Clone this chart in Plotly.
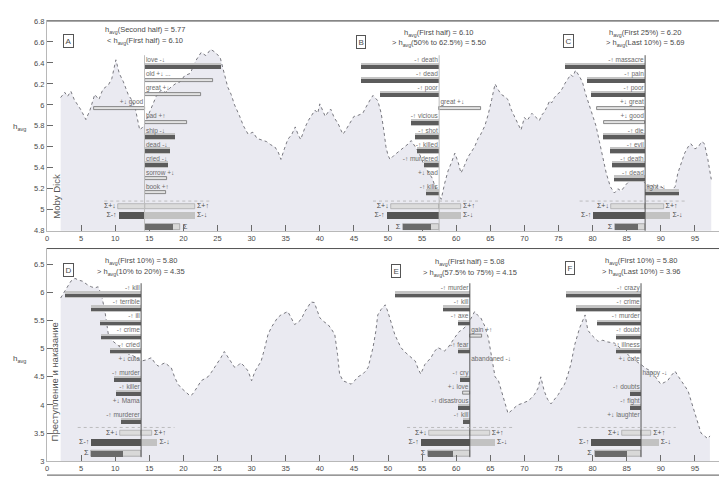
import plotly.graph_objects as go

# ---------------- data: happiness time series (percent of text, h_avg) ----------------
moby_x = [2.0, 2.6, 3.0, 3.5, 4.0, 4.5, 5.0, 5.7, 6.3, 7.0, 7.6, 8.2, 9.0, 9.5, 10.1, 10.6, 11.2, 11.9,
          12.4, 12.9, 13.3, 13.6, 14.2, 14.8, 15.5, 16.0, 16.7, 17.4, 18.0, 18.8, 19.5, 20.2, 21.0, 21.8,
          22.6, 23.3, 24.0, 24.7, 25.4, 26.0, 26.5, 27.0, 27.5, 28.2, 28.8, 29.5, 30.2, 30.8, 31.4, 32.2,
          32.8, 33.4, 33.9, 34.3, 34.8, 35.3, 35.9, 36.4, 36.8, 37.2, 37.8, 38.3, 38.8, 39.3, 39.7, 40.0,
          40.4, 40.8, 41.2, 41.6, 42.1, 42.7, 43.1, 43.4, 43.8, 44.2, 44.6, 45.0, 45.6, 46.3, 46.7, 47.0,
          47.4, 47.8, 48.2, 48.5, 48.8, 49.0, 49.4, 49.7, 50.0, 50.3, 50.9, 51.5, 52.0, 52.5, 53.0, 53.4,
          54.0, 54.5, 55.0, 55.5, 56.0, 56.5, 57.0, 57.3, 57.8, 58.3, 58.8, 59.3, 59.8, 60.3, 60.7, 61.2,
          61.7, 62.2, 62.7, 63.2, 63.6, 64.2, 64.7, 65.2, 65.7, 66.2, 66.6, 67.1, 67.6, 68.1, 68.6, 69.0,
          69.5, 70.0, 70.4, 70.7, 71.1, 71.4, 71.8, 72.2, 72.5, 72.9, 73.3, 73.7, 74.0, 74.4, 74.8, 75.2,
          75.6, 75.9, 76.4, 76.8, 77.1, 77.5, 78.0, 78.5, 79.0, 79.5, 80.0, 80.5, 81.0, 81.5, 82.0, 82.6,
          83.2, 83.7, 84.2, 84.9, 85.6, 86.3, 87.1, 87.6, 88.1, 88.6, 89.1, 89.6, 90.1, 90.8, 91.4, 91.8,
          92.1, 92.5, 93.0, 93.5, 94.0, 94.4, 95.0, 95.5, 96.0, 96.4, 96.9, 97.4]
moby_h = [6.07, 6.12, 6.08, 6.13, 6.05, 6.00, 5.95, 5.86, 5.95, 6.10, 6.05, 6.15, 6.19, 6.25, 6.43, 6.30,
          6.22, 6.10, 6.05, 5.98, 5.85, 5.76, 5.80, 5.90, 6.00, 6.08, 6.14, 6.12, 6.16, 6.20, 6.22, 6.28,
          6.30, 6.42, 6.50, 6.47, 6.53, 6.50, 6.45, 6.30, 6.17, 6.10, 6.00, 5.90, 5.80, 5.72, 5.74, 5.68,
          5.67, 5.65, 5.62, 5.60, 5.55, 5.48, 5.58, 5.67, 5.72, 5.79, 5.72, 5.67, 5.78, 5.85, 5.90, 5.95,
          5.92, 6.01, 5.95, 5.89, 5.93, 5.96, 5.88, 5.82, 5.76, 5.72, 5.76, 5.80, 5.84, 5.89, 5.90, 5.92,
          5.97, 6.01, 6.05, 6.09, 6.06, 6.04, 5.97, 5.92, 5.75, 5.60, 5.52, 5.48, 5.52, 5.55, 5.58, 5.60,
          5.63, 5.66, 5.60, 5.55, 5.47, 5.40, 5.35, 5.30, 5.20, 5.16, 5.10, 5.25, 5.37, 5.45, 5.54, 5.45,
          5.35, 5.42, 5.50, 5.55, 5.60, 5.68, 5.72, 5.80, 5.91, 6.05, 6.20, 6.14, 6.10, 6.08, 6.05, 5.95,
          5.88, 5.82, 5.76, 5.88, 5.85, 5.88, 5.92, 5.90, 5.87, 5.85, 5.90, 5.93, 5.98, 6.04, 6.02, 6.07,
          6.10, 6.12, 6.16, 6.20, 6.25, 6.29, 6.27, 6.33, 6.28, 6.22, 6.10, 6.00, 5.90, 5.80, 5.65, 5.50,
          5.35, 5.22, 5.16, 5.20, 5.18, 5.24, 5.29, 5.27, 5.31, 5.26, 5.22, 5.24, 5.20, 5.23, 5.22, 5.18,
          5.16, 5.20, 5.22, 5.35, 5.45, 5.54, 5.60, 5.63, 5.58, 5.60, 5.65, 5.63, 5.48, 5.29]

crime_x = [2.0, 2.5, 3.0, 3.5, 4.1, 4.6, 5.2, 5.7, 6.0, 6.5, 7.0, 7.5, 8.0, 8.5, 9.0, 9.5, 10.0, 10.5,
           11.0, 11.5, 12.0, 12.5, 13.0, 13.8, 14.5, 15.3, 15.8, 16.3, 16.8, 17.3, 17.8, 18.2, 18.7, 19.2,
           19.7, 20.2, 20.6, 21.0, 21.4, 21.7, 22.2, 22.6, 23.1, 23.6, 24.1, 24.6, 25.1, 25.5, 26.0, 26.5,
           27.0, 27.5, 28.0, 28.4, 29.0, 29.5, 30.0, 30.5, 31.0, 31.4, 31.9, 32.4, 32.9, 33.4, 33.8, 34.3,
           34.8, 35.3, 35.8, 36.3, 36.7, 37.1, 37.5, 37.8, 38.3, 38.7, 39.2, 39.6, 40.0, 40.6, 41.2, 41.7,
           42.2, 42.6, 42.9, 43.4, 44.0, 44.6, 45.1, 45.6, 46.3, 46.7, 47.1, 47.5, 47.8, 48.2, 48.5, 49.0,
           49.6, 50.0, 50.5, 51.0, 51.5, 51.9, 52.4, 52.9, 53.5, 54.0, 54.4, 54.8, 55.4, 55.9, 56.3, 56.8,
           57.3, 57.8, 58.3, 58.8, 59.3, 59.8, 60.4, 61.0, 61.7, 62.2, 62.7, 63.1, 63.6, 64.2, 64.7, 65.2,
           65.7, 66.2, 66.6, 67.1, 67.6, 68.1, 68.6, 69.0, 69.5, 70.0, 70.5, 71.0, 71.5, 72.0, 72.4, 72.9,
           73.4, 73.9, 74.4, 75.0, 75.4, 75.9, 76.4, 76.8, 77.4, 78.1, 78.9, 79.3, 79.8, 80.3, 80.8, 81.5,
           82.2, 83.2, 84.2, 85.2, 86.1, 87.1, 87.8, 88.6, 89.3, 90.0, 90.5, 91.0, 91.5, 92.1, 92.5, 93.0,
           93.5, 94.0, 94.5, 95.0, 95.5, 95.9, 96.4, 96.9, 97.2]
crime_h = [5.90, 6.00, 6.10, 6.20, 6.25, 6.22, 6.20, 6.15, 6.13, 6.10, 6.08, 6.10, 5.95, 5.66, 5.25, 5.15,
           5.10, 5.05, 5.00, 4.95, 4.90, 4.88, 4.85, 4.78, 4.80, 4.84, 4.75, 4.69, 4.72, 4.75, 4.70, 4.67,
           4.50, 4.37, 4.30, 4.25, 4.20, 4.16, 4.20, 4.25, 4.35, 4.43, 4.47, 4.50, 4.58, 4.67, 4.75, 4.84,
           4.95, 4.85, 4.75, 4.67, 4.70, 4.75, 4.68, 4.60, 4.43, 4.60, 4.70, 4.78, 5.00, 5.25, 5.38, 5.48,
           5.55, 5.60, 5.63, 5.66, 5.55, 5.43, 5.46, 5.50, 5.58, 5.66, 5.75, 5.83, 5.82, 5.70, 5.55, 5.48,
           5.43, 5.35, 5.25, 4.90, 4.55, 4.43, 4.40, 4.37, 4.43, 4.50, 4.55, 4.60, 4.67, 4.85, 5.02, 5.30,
           5.60, 5.70, 5.78, 5.65, 5.45, 5.25, 5.12, 5.02, 4.95, 4.90, 4.84, 4.78, 4.65, 4.55, 4.72, 4.78,
           4.84, 4.95, 5.02, 4.99, 4.96, 5.02, 5.10, 5.20, 5.30, 5.35, 5.43, 5.55, 5.66, 5.60, 5.55, 5.40,
           5.20, 4.85, 4.50, 4.43, 4.25, 4.05, 3.85, 3.90, 3.96, 4.00, 4.02, 4.05, 4.07, 4.12, 4.19, 4.30,
           4.50, 4.25, 4.10, 4.02, 4.10, 4.19, 4.28, 4.37, 4.55, 4.72, 5.08, 5.37, 5.60, 5.33, 5.25, 5.18,
           5.13, 5.15, 5.12, 5.10, 5.00, 4.90, 4.80, 4.72, 4.65, 4.60, 4.48, 4.37, 4.40, 4.43, 4.52, 4.60,
           4.52, 4.43, 4.35, 4.25, 4.05, 3.85, 3.65, 3.50, 3.45, 3.40, 3.45]

x_tickvals = list(range(0, 101, 5))
top_tickvals = [4.8, 5.0, 5.2, 5.4, 5.6, 5.8, 6.0, 6.2, 6.4, 6.6, 6.8]
top_ticktext = ["4.8", "5", "5.2", "5.4", "5.6", "5.8", "6", "6.2", "6.4", "6.6", "6.8"]
bot_tickvals = [3.0, 3.5, 4.0, 4.5, 5.0, 5.5, 6.0, 6.5]
bot_ticktext = ["3", "3.5", "4", "4.5", "5", "5.5", "6", "6.5"]

# ---------------- data: word shifts (baseline in percent, signed contribution length) ----------------
A_base = 14.3
A_words = ["love -↓", "old +↓ ...", "great +↓", "+↓ good", "bad +↑", "ship -↓", "dead -↓", "cried -↓",
           "sorrow +↓", "book +↑"]
A_shift = [11.2, 10.0, 8.3, -7.4, 6.2, 4.4, 3.8, 3.4, 3.3, 3.2]
A_sum_up = [-3.9, 7.4]
A_sum_down = [-3.8, 7.4]
A_sum_total = [5.2, 0.0, 4.2]
A_text = ["h<sub>avg</sub>(Second half) = 5.77", "< h<sub>avg</sub>(First half) = 6.10"]

B_base = 57.5
B_words = ["-↑ death", "-↑ dead", "-↑ poor", "great +↓", "-↑ vicious", "-↑ shot", "-↑ killed",
           "-↑ murdered", "+↓ bad", "-↑ kills"]
B_shift = [-11.5, -11.5, -8.7, 6.1, -4.1, -3.6, -3.3, -2.2, 0.0, -2.0]
B_sum_up = [-7.1, 3.2]
B_sum_down = [-7.7, 3.2]
B_sum_total = [-5.3, -5.3, -1.2]
B_text = ["h<sub>avg</sub>(First half) = 6.10", "> h<sub>avg</sub>(50% to 62.5%) = 5.50"]

C_base = 87.7
C_words = ["-↑ massacre", "-↑ pain", "-↑ poor", "+↓ great", "+↓ good", "-↑ die", "-↑ evil",
           "-↑ death", "-↑ dead", "light -↓"]
C_shift = [-11.7, -8.5, -7.9, -7.1, -6.1, -6.2, -5.2, -4.8, -4.5, 4.9]
C_sum_up = [-5.0, 2.7]
C_sum_down = [-7.6, 3.7]
C_sum_total = [-4.4, -4.4, -1.0]
C_text = ["h<sub>avg</sub>(First 25%) = 6.20", "> h<sub>avg</sub>(Last 10%) = 5.69"]

D_base = 13.8
D_words = ["-↑ kill", "-↑ terrible", "-↑ ill", "-↑ crime", "-↑ cried", "+↓ cute", "-↑ murder",
           "-↑ killer", "+↓ Mama", "-↑ murderer"]
D_shift = [-11.1, -7.4, -6.1, -5.9, -4.6, 0.0, -4.0, -3.7, 0.0, -3.0]
D_sum_up = [-3.1, 1.6]
D_sum_down = [-7.3, 2.4]
D_sum_total = [-7.3, -7.3, -2.6]
D_text = ["h<sub>avg</sub>(First 10%) = 5.80", "> h<sub>avg</sub>(10% to 20%) = 4.35"]

E_base = 62.0
E_words = ["-↑ murder", "-↑ kill", "-↑ axe", "gain +↑", "-↑ fear", "abandoned -↓", "-↑ cry",
           "+↓ love", "-↑ disastrous", "-↑ kill"]
E_shift = [-11.0, -3.9, -1.8, 1.8, -1.8, 0.0, -1.5, -1.0, -1.7, -1.0]
E_sum_up = [-6.0, 2.9]
E_sum_down = [-7.2, 3.7]
E_sum_total = [-6.1, -6.1, -2.5]
E_text = ["h<sub>avg</sub>(First half) = 5.08", "> h<sub>avg</sub>(57.5% to 75%) = 4.15"]

F_base = 87.1
F_words = ["-↑ crazy", "-↑ crime", "-↑ murder", "-↑ doubt", "-↑ illness", "+↓ cute", "happy -↓",
           "-↑ doubts", "-↑ fight", "+↓ laughter"]
F_shift = [-11.0, -9.5, -6.5, -3.7, -3.7, 0.0, 0.0, -1.6, -1.6, 0.0]
F_sum_up = [-2.8, 1.5]
F_sum_down = [-7.3, 2.6]
F_sum_total = [-6.8, -6.8, -2.1]
F_text = ["h<sub>avg</sub>(First 10%) = 5.80", "> h<sub>avg</sub>(Last 10%) = 3.96"]

# ---------------- figure ----------------
FONT = "Liberation Sans, Arial, sans-serif"
INK = "#4a4a4a"
DARK = "#5c5c5c"
FILL = "#eaeaf1"
TOP_RANGE = [4.8, 6.8]
BOT_RANGE = [3.0, 6.78]

fig = go.Figure()

# geometry per strip: series on base axes, word shifts on overlaying axes (drawn above the fill)
strips = {
    "top": dict(xa="x", ya="y", oa="y4", ppu=106.0, y0=6.37, dy=-0.134,
                sums=[5.035, 4.945, 4.835], sep=5.083),
    "bot": dict(xa="x2", ya="y2", oa="y5", ppu=56.9, y0=5.97, dy=-0.25,
                sums=[3.495, 3.337, 3.143], sep=3.60),
}

for xs, hs, key in [(moby_x, moby_h, "top"), (crime_x, crime_h, "bot")]:
    s = strips[key]
    fig.add_trace(go.Scatter(x=xs, y=hs, mode="lines", fill="tozeroy", fillcolor=FILL,
                             line=dict(color="#78787f", width=1, dash="dot"),
                             xaxis=s["xa"], yaxis=s["ya"], showlegend=False, hoverinfo="skip"))


def hbar(s, ys, lengths, bases, thick_px, color, line_color=None, line_w=0):
    fig.add_trace(go.Bar(orientation="h", y=ys, x=lengths, base=bases,
                         width=[thick_px / s["ppu"]] * len(ys),
                         marker=dict(color=color, line=dict(color=line_color or color, width=line_w)),
                         xaxis=s["xa"], yaxis=s["oa"], showlegend=False, hoverinfo="skip"))


def text_tr(s, xs, ys, texts, pos, size=6.5, color="#6a6a6a"):
    fig.add_trace(go.Scatter(x=xs, y=ys, mode="text", text=texts, textposition=pos,
                             textfont=dict(family=FONT, size=size, color=color),
                             xaxis=s["xa"], yaxis=s["oa"], showlegend=False, hoverinfo="skip"))


def panel(key, base, words, shift, sum_up, sum_down, sum_total, lines, letter, letter_x, letter_y,
          ann_y, vline_color):
    s = strips[key]
    n = len(words)
    ys = [s["y0"] + i * s["dy"] for i in range(n)]
    lab_dy = 5.5 / s["ppu"]
    # baseline
    fig.add_trace(go.Scatter(x=[base, base], y=[ys[0] + 2 * lab_dy, s["sums"][2] - 4 / s["ppu"]],
                             mode="lines", line=dict(color=vline_color, width=1),
                             xaxis=s["xa"], yaxis=s["oa"], showlegend=False, hoverinfo="skip"))
    dark_i = [i for i in range(n) if "+" not in words[i] and shift[i] != 0]
    light_i = [i for i in range(n) if "+" in words[i] and shift[i] != 0]
    if dark_i:
        hbar(s, [ys[i] for i in dark_i], [shift[i] for i in dark_i], [base] * len(dark_i), 6.5, "#c4c4c4")
        hbar(s, [ys[i] - 0.8 / s["ppu"] for i in dark_i], [shift[i] for i in dark_i],
             [base] * len(dark_i), 3.6, DARK)
    if light_i:
        hbar(s, [ys[i] for i in light_i], [shift[i] for i in light_i], [base] * len(light_i), 3.0,
             "#e2e2e2", "#6e6e6e", 0.8)
    # word labels
    left = [i for i in range(n) if shift[i] < 0 or (shift[i] == 0 and words[i][0] in "+-")]
    right = [i for i in range(n) if i not in left]
    if left:
        text_tr(s, [base - 0.2] * len(left), [ys[i] + lab_dy for i in left], [words[i] for i in left],
                "middle left")
    if right:
        text_tr(s, [base + 0.2] * len(right), [ys[i] + lab_dy for i in right], [words[i] for i in right],
                "middle right")
    # summary separator
    lo = base + min(sum_up[0], sum_down[0]) - 2.0
    hi = base + max(sum_up[1], sum_down[1]) + 2.5
    fig.add_trace(go.Scatter(x=[lo, hi], y=[s["sep"], s["sep"]], mode="lines",
                             line=dict(color="#b0b0b0", width=0.8, dash="dot"),
                             xaxis=s["xa"], yaxis=s["oa"], showlegend=False, hoverinfo="skip"))
    r1, r2, r3 = s["sums"]
    hbar(s, [r1, r1], sum_up, [base, base], 5.0, "#dcdcdc", "#9a9a9a", 0.6)
    hbar(s, [r2], [sum_down[0]], [base], 7.0, "#555555")
    hbar(s, [r2], [sum_down[1]], [base], 7.0, "#c2c2c2")
    hbar(s, [r3], [sum_total[0]], [base], 6.0, "#d8d8d8", "#8a8a8a", 0.6)
    hbar(s, [r3], [sum_total[2] - sum_total[1]], [base + sum_total[1]], 6.0, "#6a6a6a")
    text_tr(s, [base + sum_up[0] - 0.3, base + sum_down[0] - 0.3], [r1, r2], ["Σ+↓", "Σ-↑"],
            "middle left", 7, INK)
    text_tr(s, [base + sum_up[1] + 0.3, base + sum_down[1] + 0.3], [r1, r2], ["Σ+↑", "Σ-↓"],
            "middle right", 7, INK)
    tend = base + sum_total[0]
    text_tr(s, [tend + (0.4 if sum_total[0] > 0 else -0.4)], [r3], ["Σ"],
            "middle right" if sum_total[0] > 0 else "middle left", 7.5, INK)
    # header text
    for j, t in enumerate(lines):
        fig.add_annotation(x=base, y=ann_y - j * 11 / s["ppu"], xref=s["xa"], yref=s["ya"], text=t,
                           showarrow=False, xanchor="center",
                           font=dict(family=FONT, size=7.5, color=INK))
    fig.add_annotation(x=letter_x, y=letter_y, xref=s["xa"], yref=s["ya"], text=letter, showarrow=False,
                       xanchor="center",
                       font=dict(family=FONT, size=8, color=INK), bordercolor="#555", borderwidth=1,
                       borderpad=1.5, bgcolor="white")


panel("top", A_base, A_words, A_shift, A_sum_up, A_sum_down, A_sum_total, A_text, "A", 3.2, 6.61, 6.715, "#bdbdbd")
panel("top", B_base, B_words, B_shift, B_sum_up, B_sum_down, B_sum_total, B_text, "B", 46.0, 6.60, 6.69, "#bdbdbd")
panel("top", C_base, C_words, C_shift, C_sum_up, C_sum_down, C_sum_total, C_text, "C", 76.4, 6.61, 6.69, "#555555")
panel("bot", D_base, D_words, D_shift, D_sum_up, D_sum_down, D_sum_total, D_text, "D", 3.2, 6.39, 6.56, "#555555")
panel("bot", E_base, E_words, E_shift, E_sum_up, E_sum_down, E_sum_total, E_text, "E", 51.2, 6.38, 6.54, "#555555")
panel("bot", F_base, F_words, F_shift, F_sum_up, F_sum_down, F_sum_total, F_text, "F", 76.7, 6.43, 6.56, "#555555")

# book titles (rotated) and y titles
fig.add_annotation(x=1.4, y=5.13, xref="x", yref="y", text="Moby Dick", textangle=-90, showarrow=False,
                   xanchor="center", font=dict(family=FONT, size=9.5, color="#555"))
fig.add_annotation(x=1.1, y=4.41, xref="x2", yref="y2", text="Преступление и наказание", textangle=-90,
                   showarrow=False, xanchor="center", font=dict(family=FONT, size=9.5, color="#555"))
for yy in [0.771, 0.268]:
    fig.add_annotation(x=-0.04, y=yy, xref="paper", yref="paper", text="h<sub>avg</sub>", showarrow=False,
                       xanchor="center", yanchor="middle", font=dict(family=FONT, size=8, color=INK))

axis_common = dict(showline=True, linecolor="#b8b8b8", linewidth=1, mirror=True, ticks="inside",
                   ticklen=6, tickwidth=1, tickcolor="#6a6a6a", showgrid=False, zeroline=False,
                   tickfont=dict(family=FONT, size=7.5, color=INK))
overlay_common = dict(showline=False, showticklabels=False, ticks="", showgrid=False, zeroline=False)

fig.update_layout(
    width=727, height=480, margin=dict(l=39, r=6, t=13, b=0),
    paper_bgcolor="white", plot_bgcolor="rgba(0,0,0,0)", barmode="overlay", bargap=0,
    showlegend=False,
    xaxis=dict(domain=[0, 1], range=[0, 100], tickvals=x_tickvals, anchor="y", **axis_common),
    yaxis=dict(domain=[0.546, 1.0], range=TOP_RANGE, tickvals=top_tickvals, ticktext=top_ticktext,
               anchor="x", **axis_common),
    yaxis4=dict(overlaying="y", anchor="x", range=TOP_RANGE, **overlay_common),
    xaxis2=dict(domain=[0, 1], range=[0, 100], tickvals=x_tickvals, anchor="y2", **axis_common),
    yaxis2=dict(domain=[0.0471, 0.5075], range=BOT_RANGE, tickvals=bot_tickvals, ticktext=bot_ticktext,
                anchor="x2", **axis_common),
    yaxis5=dict(overlaying="y2", anchor="x2", range=BOT_RANGE, **overlay_common),
    xaxis3=dict(domain=[0, 1], range=[0, 100], tickvals=x_tickvals, anchor="y3", showticklabels=False,
                **axis_common),
    yaxis3=dict(domain=[0.0, 0.0171], range=[6.6, 7.0], tickvals=[7.0], ticktext=["7"], anchor="x3",
                **axis_common),
)

# darker top frame lines of each strip
for y_paper in [1.0, 0.5075, 0.0171]:
    fig.add_shape(type="line", xref="paper", yref="paper", x0=0, x1=1, y0=y_paper, y1=y_paper,
                  line=dict(color="#555", width=1))

fig.write_html("out.html")
